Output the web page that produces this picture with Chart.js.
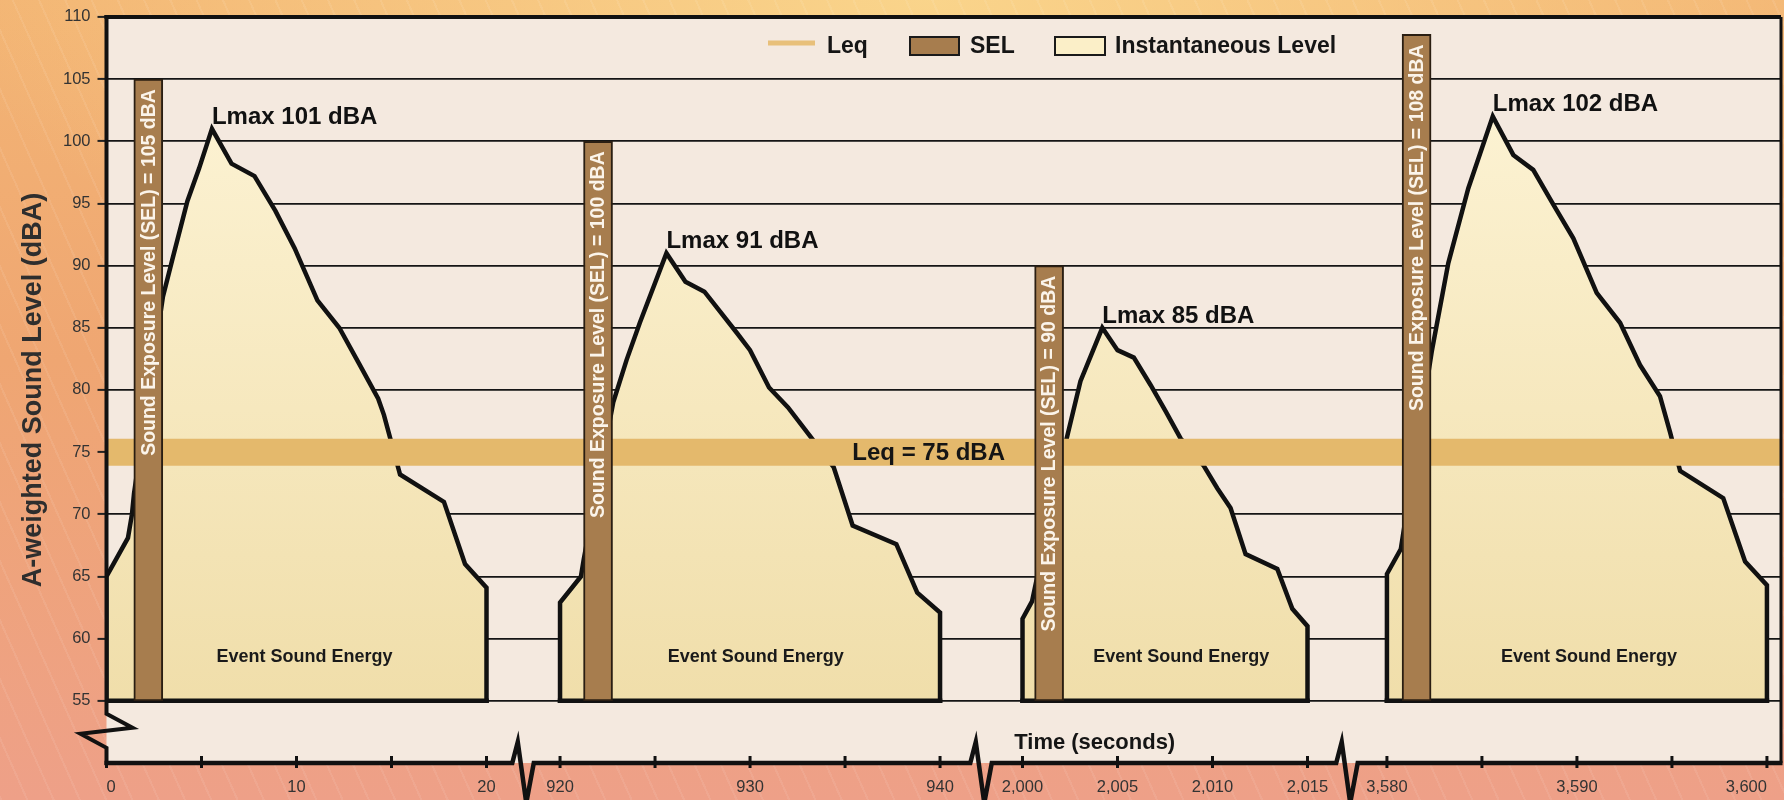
<!DOCTYPE html>
<html>
<head>
<meta charset="utf-8">
<script src="https://cdn.jsdelivr.net/npm/chart.js@4.4.1/dist/chart.umd.min.js"></script>
<style>
    html, body { margin: 0; padding: 0; }
    body {
        width: 1784px;
        height: 800px;
        overflow: hidden;
        background:
            repeating-linear-gradient(66deg, rgba(255,255,255,0.08) 0 2px, rgba(255,255,255,0) 2px 24px),
            radial-gradient(ellipse 55% 45% at 52% 0%, rgba(250,214,140,0.95) 0%, rgba(250,214,140,0) 100%),
            linear-gradient(180deg, #F3B574 0%, #EFA672 45%, #EEA088 100%);
    }
</style>
</head>
<body>
<canvas id="js--chart--noise" width="1784" height="800"></canvas>
<script>
// the time axis is cut into four windows
const segmentStart = [0, 920, 2000, 3580];
const segmentEnd = [20, 940, 2015, 3600];
// where each window begins on the drawn (compressed) axis, in seconds
const segmentAxisStart = [0, 23.87, 48.21, 67.39];
const axisEnd = 88.13;

const timeTicks = [0, 5, 10, 15, 20, 920, 925, 930, 935, 940, 2000, 2005, 2010, 2015, 3580, 3585, 3590, 3595, 3600];
const timeTickLabels = ["0", "", "10", "", "20", "920", "", "930", "", "940", "2,000", "2,005", "2,010", "2,015", "3,580", "", "3,590", "", "3,600"];
const levelTicks = [55, 60, 65, 70, 75, 80, 85, 90, 95, 100, 105, 110];

const baseLevel = 55;

// instantaneous level, one outline per event
const event1Time = [0, 0, 1.13, 1.34, 1.45, 2.97, 3.45, 4.26, 4.87, 5.55, 6.58, 7.79, 8.89, 9.9, 11.1, 12.25, 13.3, 14.3, 14.6, 15.45, 17.76, 18.87, 20, 20];
const event1Level = [55, 65, 68.1, 70, 71.7, 87.5, 90.4, 95.2, 97.8, 101, 98.2, 97.2, 94.4, 91.4, 87.2, 85, 82.1, 79.3, 78, 73.2, 71, 66, 64.1, 55];

const event2Time = [920, 920, 921.1, 921.25, 922.8, 923.5, 924.2, 925.6, 926.6, 927.6, 929.3, 930.0, 931.0, 932.0, 933.2, 934.4, 935.4, 937.7, 938.8, 940, 940];
const event2Level = [55, 62.9, 65.0, 66.4, 79.0, 82.4, 85.4, 91, 88.7, 87.9, 84.6, 83.2, 80.2, 78.6, 76.2, 73.8, 69.1, 67.6, 63.7, 62.1, 55];

const event3Time = [2000, 2000, 2000.5, 2002.23, 2003.05, 2004.2, 2005.0, 2005.86, 2006.74, 2007.53, 2008.32, 2009.54, 2010.25, 2010.95, 2011.74, 2013.41, 2014.2, 2015, 2015];
const event3Level = [55, 61.6, 63.0, 75.5, 80.7, 85, 83.2, 82.6, 80.4, 78.3, 76.1, 73.9, 72.1, 70.5, 66.8, 65.6, 62.4, 61.0, 55];

const event4Time = [3580, 3580, 3580.73, 3582.36, 3583.23, 3584.28, 3585.57, 3586.65, 3587.7, 3588.76, 3589.81, 3591.04, 3592.27, 3593.32, 3594.37, 3594.9, 3595.43, 3597.7, 3598.85, 3600, 3600];
const event4Level = [55, 65.2, 67.2, 83.1, 90.2, 96.2, 102, 98.9, 97.7, 94.9, 92.2, 87.8, 85.4, 82.0, 79.5, 76.6, 73.5, 71.3, 66.2, 64.3, 55];

// SEL bars
const selTime = [2.2, 922.0, 2001.4, 3581.56];
const selLevel = [105, 100, 90, 108.6];
const selLabel = [105, 100, 90, 108];

// Lmax peaks
const lmaxTime = [5.55, 925.6, 2004.2, 3585.57];
const lmaxLevel = [101, 91, 85, 102];

const energyLabelTime = [10.42, 930.3, 2008.36, 3590.64];
const energyLabelLevel = 58.1;

const leqLevel = 75;
const leqLabelTime = 939.4;
const timeTitleTime = 2003.8;
const timeTitleLevel = 51.1;

const FONT = "'Liberation Sans', Arimo, Arial, sans-serif";
Chart.defaults.font.family = FONT;

function toAxis(t) {
    let i = segmentStart.length - 1;
    while (i > 0 && t < segmentStart[i]) i--;
    return segmentAxisStart[i] + (t - segmentStart[i]);
}

function points(times, levels) {
    return times.map((t, i) => ({x: toAxis(t), y: levels[i]}));
}

const events = [
    [event1Time, event1Level],
    [event2Time, event2Level],
    [event3Time, event3Level],
    [event4Time, event4Level],
];

// bottom edge of every event, broken between events
const baseData = [];
events.forEach(([times]) => {
    const a = toAxis(times[0]);
    const b = toAxis(times[times.length - 1]);
    baseData.push({x: a, y: baseLevel}, {x: b, y: baseLevel}, {x: b, y: null});
});

const instFill = (c) => {
    const chart = c.chart;
    if (!chart.chartArea) return '#F6E6BA';
    const y = chart.scales.y;
    const g = chart.ctx.createLinearGradient(0, y.getPixelForValue(102), 0, y.getPixelForValue(55));
    g.addColorStop(0, '#FCF2D2');
    g.addColorStop(1, '#F0DEAA');
    return g;
};

const eventSet = ([times, levels]) => ({
    type: 'line',
    label: 'Instantaneous Level',
    data: points(times, levels),
    borderColor: '#111',
    borderWidth: 4.5,
    borderJoinStyle: 'miter',
    borderCapStyle: 'square',
    backgroundColor: instFill,
    fill: {value: baseLevel},
    pointRadius: 0,
    tension: 0,
    order: 3,
});

const data = {
    datasets: [
        {
            type: 'bar',
            label: 'SEL',
            data: selTime.map((t, i) => ({x: toAxis(t), y: [baseLevel, selLevel[i]]})),
            backgroundColor: '#A77D4E',
            borderColor: '#2a1e12',
            borderWidth: 2,
            borderSkipped: false,
            barThickness: 29,
            order: 1,
        },
        {
            type: 'line',
            label: 'Leq',
            data: [{x: 0, y: leqLevel}, {x: axisEnd, y: leqLevel}],
            borderColor: '#E4B96C',
            borderWidth: 27,
            borderCapStyle: 'butt',
            pointRadius: 0,
            fill: false,
            order: 2,
        },
        {
            type: 'line',
            label: 'event base',
            data: baseData,
            borderColor: '#111',
            borderWidth: 4.5,
            borderCapStyle: 'square',
            pointRadius: 0,
            fill: false,
            spanGaps: false,
            order: 3,
        },
        ...events.map(eventSet),
    ]
};

const noiseDecor = {
    id: 'noiseDecor',
    beforeDraw(chart) {
        const {ctx, chartArea: a} = chart;
        ctx.save();
        ctx.fillStyle = '#F4E9DF';
        ctx.fillRect(a.left, a.top, a.right - a.left, a.bottom - a.top);
        ctx.restore();
    },
    afterDatasetsDraw(chart) {
        const {ctx, chartArea: a, scales: {x, y}} = chart;
        ctx.save();
        ctx.strokeStyle = '#111';
        ctx.lineJoin = 'miter';

        // frame: top and right
        ctx.lineWidth = 4;
        ctx.beginPath();
        ctx.moveTo(a.left - 2, a.top);
        ctx.lineTo(a.right, a.top);
        ctx.stroke();
        ctx.lineWidth = 3;
        ctx.beginPath();
        ctx.moveTo(a.right, a.top);
        ctx.lineTo(a.right, a.bottom);
        ctx.stroke();

        // y axis with break under 55
        const yb = y.getPixelForValue(baseLevel);
        ctx.lineWidth = 4;
        ctx.beginPath();
        ctx.moveTo(a.left, a.top - 2);
        ctx.lineTo(a.left, yb + 13);
        ctx.lineTo(a.left + 26, yb + 27);
        ctx.lineTo(a.left - 26, yb + 33);
        ctx.lineTo(a.left, yb + 47);
        ctx.lineTo(a.left, a.bottom + 2);
        ctx.stroke();

        // x axis with breaks between the windows
        ctx.lineWidth = 4.5;
        ctx.beginPath();
        ctx.moveTo(a.left - 2, a.bottom);
        for (let i = 1; i < segmentStart.length; i++) {
            const c = (x.getPixelForValue(toAxis(segmentEnd[i - 1])) + x.getPixelForValue(toAxis(segmentStart[i]))) / 2;
            ctx.lineTo(c - 11, a.bottom);
            ctx.lineTo(c - 5.5, a.bottom - 21);
            ctx.lineTo(c + 3, a.bottom + 40);
            ctx.lineTo(c + 10.5, a.bottom);
        }
        ctx.lineTo(a.right + 1.5, a.bottom);
        ctx.stroke();

        ctx.lineWidth = 3;
        timeTicks.forEach(t => {
            const px = x.getPixelForValue(toAxis(t));
            ctx.beginPath();
            ctx.moveTo(px, a.bottom - 7);
            ctx.lineTo(px, a.bottom + 5);
            ctx.stroke();
        });

        // SEL text inside bars
        ctx.fillStyle = '#FBF4EA';
        ctx.font = 'bold 19.5px ' + FONT;
        ctx.textAlign = 'right';
        ctx.textBaseline = 'middle';
        selTime.forEach((t, i) => {
            ctx.save();
            ctx.translate(x.getPixelForValue(toAxis(t)), y.getPixelForValue(selLevel[i]) + 10);
            ctx.rotate(-Math.PI / 2);
            ctx.fillText('Sound Exposure Level (SEL) = ' + selLabel[i] + ' dBA', 0, 1);
            ctx.restore();
        });

        // Lmax labels
        ctx.fillStyle = '#111';
        ctx.textBaseline = 'alphabetic';
        ctx.textAlign = 'left';
        ctx.font = 'bold 24px ' + FONT;
        lmaxTime.forEach((t, i) => {
            ctx.fillText('Lmax ' + lmaxLevel[i] + ' dBA', x.getPixelForValue(toAxis(t)), y.getPixelForValue(lmaxLevel[i]) - 5);
        });

        // event labels
        ctx.textAlign = 'center';
        ctx.font = 'bold 18px ' + FONT;
        ctx.fillStyle = '#1a1a1a';
        energyLabelTime.forEach(t => {
            ctx.fillText('Event Sound Energy', x.getPixelForValue(toAxis(t)), y.getPixelForValue(energyLabelLevel));
        });

        ctx.fillStyle = '#151515';
        ctx.font = 'bold 24px ' + FONT;
        ctx.fillText('Leq = ' + leqLevel + ' dBA', x.getPixelForValue(toAxis(leqLabelTime)), y.getPixelForValue(leqLevel) + 8);

        ctx.font = 'bold 22px ' + FONT;
        ctx.fillText('Time (seconds)', x.getPixelForValue(toAxis(timeTitleTime)), y.getPixelForValue(timeTitleLevel));

        // legend
        ctx.textAlign = 'left';
        ctx.font = 'bold 23px ' + FONT;
        ctx.strokeStyle = '#E8C07A';
        ctx.lineWidth = 5;
        ctx.beginPath();
        ctx.moveTo(768, 43);
        ctx.lineTo(815, 43);
        ctx.stroke();
        ctx.fillStyle = '#151515';
        ctx.fillText('Leq', 827, 53);

        ctx.lineWidth = 2;
        ctx.strokeStyle = '#1a1a1a';
        ctx.fillStyle = '#A77D4E';
        ctx.fillRect(910, 37, 49, 18);
        ctx.strokeRect(910, 37, 49, 18);
        ctx.fillStyle = '#151515';
        ctx.fillText('SEL', 970, 53);

        ctx.fillStyle = '#FBEFC8';
        ctx.fillRect(1055, 37, 50, 18);
        ctx.strokeRect(1055, 37, 50, 18);
        ctx.fillStyle = '#151515';
        ctx.fillText('Instantaneous Level', 1115, 53);

        ctx.restore();
    }
};

const config = {
    type: 'line',
    data: data,
    plugins: [noiseDecor],
    options: {
        responsive: false,
        animation: false,
        devicePixelRatio: 1,
        layout: {padding: {top: 14.5, right: 3, left: 0, bottom: 0}},
        plugins: {
            legend: {display: false},
            tooltip: {enabled: false},
        },
        scales: {
            x: {
                type: 'linear',
                min: 0,
                max: axisEnd,
                offset: false,
                border: {display: false},
                grid: {display: false, drawTicks: false},
                ticks: {
                    autoSkip: false,
                    maxRotation: 0,
                    padding: 15,
                    align: 'inner',
                    color: '#333',
                    font: {size: 16.5},
                    callback: (v, i) => timeTickLabels[i],
                },
                afterBuildTicks: (s) => { s.ticks = timeTicks.map(t => ({value: toAxis(t)})); },
                afterFit: (s) => { s.height = 37; },
            },
            y: {
                type: 'linear',
                min: 50,
                max: 110,
                border: {display: false},
                grid: {
                    color: (c) => (c.tick && c.tick.value === 110) ? 'rgba(0,0,0,0)' : '#151515',
                    lineWidth: 1.8,
                    drawTicks: true,
                    tickLength: 9,
                    tickColor: '#222',
                    tickWidth: 2,
                },
                ticks: {padding: 7, color: '#333', font: {size: 16.5}},
                afterBuildTicks: (s) => { s.ticks = levelTicks.map(v => ({value: v})); },
                afterFit: (s) => { s.width = 106.5; },
                title: {
                    display: true,
                    text: 'A-weighted Sound Level (dBA)',
                    color: '#2e2e2e',
                    font: {size: 27, weight: 'bold'},
                    padding: {top: 17, bottom: 0},
                },
            },
        },
    },
};

new Chart(document.getElementById("js--chart--noise"), config);
</script>
</body>
</html>
